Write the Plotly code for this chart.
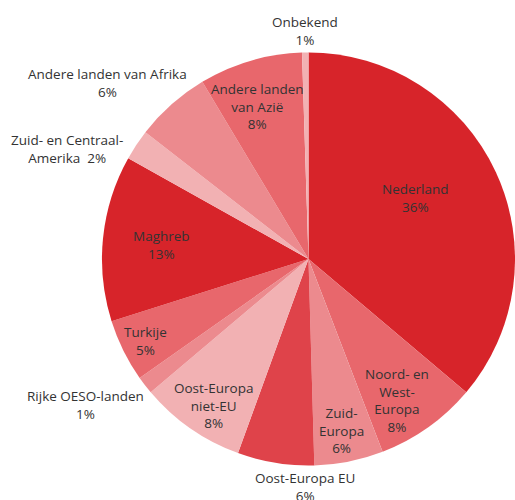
import plotly.graph_objects as go

# Data, clockwise from 12 o'clock
categories = ["Nederland", "Noord- en West-Europa", "Zuid-Europa", "Oost-Europa EU",
              "Oost-Europa niet-EU", "Rijke OESO-landen", "Turkije", "Maghreb",
              "Zuid- en Centraal-Amerika", "Andere landen van Afrika",
              "Andere landen van Azië", "Onbekend"]
shares = [36.2, 8.0, 5.4, 6.0, 8.3, 1.4, 4.9, 13.0, 2.4, 5.9, 8.1, 0.5]
pct_labels = ["36%", "8%", "6%", "6%", "8%", "1%", "5%", "13%", "2%", "6%", "8%", "1%"]
display_names = ["Nederland", "Noord- en<br>West-<br>Europa", "Zuid-<br>Europa",
                 "Oost-Europa EU", "Oost-Europa<br>niet-EU", "Rijke OESO-landen",
                 "Turkije", "Maghreb", "Zuid- en Centraal-<br>Amerika ",
                 "Andere landen van Afrika", "Andere landen<br>van Azië", "Onbekend"]
inline_pct = [False, False, False, False, False, False, False, False, True, False, False, False]

# Styling
colors = ["#d7242a", "#e8676c", "#ec8a8e", "#df434a", "#f2b1b3", "#ec8a8e",
          "#e8676c", "#d7242a", "#f2b1b3", "#ec8a8e", "#e8676c", "#f2b1b3"]
# label centres in pixels (x, y of text block centre)
label_pos = [(415, 198), (397, 400), (341, 430), (305, 487), (213, 405), (85, 405),
             (145, 341), (161, 245), (67, 149), (107, 83), (257, 107), (305, 31)]

W, H = 515, 500
fig = go.Figure(go.Pie(
    labels=categories, values=shares, sort=False, direction="clockwise",
    rotation=0, marker=dict(colors=colors, line=dict(width=0)),
    textinfo="none", hoverinfo="skip", showlegend=False,
    domain=dict(x=[0.198, 1.0], y=[0.068, 0.896]),
))

for name, pct, inl, (px, py) in zip(display_names, pct_labels, inline_pct, label_pos):
    txt = f"{name} {pct}" if inl else f"{name}<br>{pct}"
    fig.add_annotation(x=px / W, y=1 - py / H, xref="paper", yref="paper",
                       text=txt, showarrow=False, xanchor="center", yanchor="middle",
                       align="center",
                       font=dict(family="Open Sans", size=13.5, color="#333333"))

fig.update_layout(width=W, height=H, margin=dict(l=0, r=0, t=0, b=0),
                  paper_bgcolor="white", plot_bgcolor="white")
fig.write_html("out.html", config={"displayModeBar": False},
               post_script="document.body.style.margin='0';")
